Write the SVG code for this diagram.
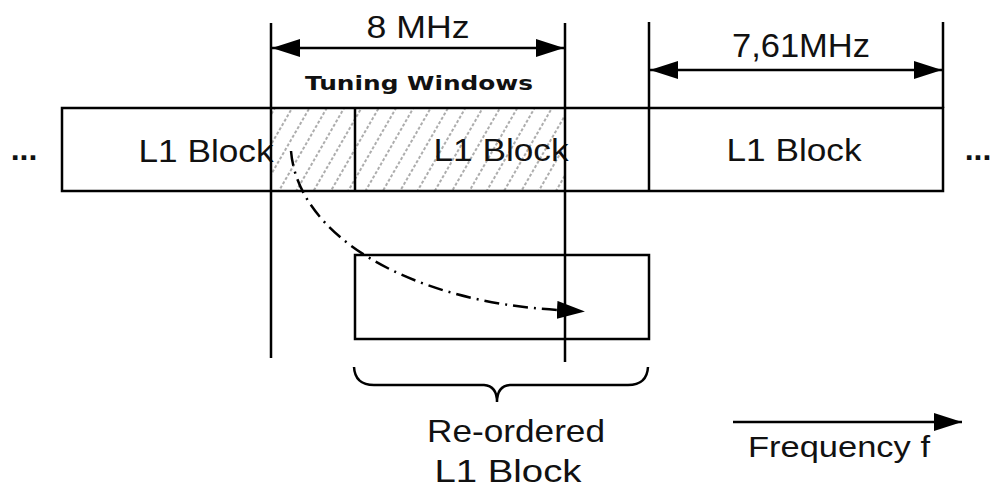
<svg xmlns="http://www.w3.org/2000/svg" width="991" height="488" viewBox="0 0 991 488">
<style>
.ln{stroke:#000;stroke-width:2.5;fill:none}
.box{stroke:#000;stroke-width:2.5;fill:none}
.t{font-family:"Liberation Sans",Arial,sans-serif;fill:#111;text-anchor:middle}
.tb{font-family:"DejaVu Sans",Verdana,sans-serif;font-weight:bold;fill:#111;text-anchor:middle}
</style>
<defs>
<marker id="ah" viewBox="0 0 28 18" refX="28" refY="9" markerWidth="28" markerHeight="18" markerUnits="userSpaceOnUse" orient="auto-start-reverse">
<path d="M0,0 L28,9 L0,18 Z" fill="#000"/>
</marker>
<marker id="ah2" viewBox="0 0 28 18" refX="2" refY="9" markerWidth="28" markerHeight="18" markerUnits="userSpaceOnUse" orient="auto">
<path d="M0,0 L28,9 L0,18 Z" fill="#000"/>
</marker>
<pattern id="hatch" width="15" height="15" patternUnits="userSpaceOnUse" patternTransform="rotate(30)">
<line x1="7" y1="0" x2="7" y2="15" stroke="#8a8a8a" stroke-width="1.4" stroke-dasharray="3 2"/>
</pattern>
</defs>
<rect width="991" height="488" fill="#fff"/>

<g id="hatched-window">
<rect x="271" y="108" width="294" height="83" fill="url(#hatch)"/>
</g>

<g id="l1-block-row">
<rect class="box" x="62" y="108" width="881" height="83"/>
<line class="ln" x1="355" y1="108" x2="355" y2="191"/>
<line class="ln" x1="649" y1="108" x2="649" y2="191"/>
<text class="t" x="206" y="162" font-size="32" textLength="135" lengthAdjust="spacingAndGlyphs">L1 Block</text>
<text class="t" x="501" y="161" font-size="32" textLength="135" lengthAdjust="spacingAndGlyphs">L1 Block</text>
<text class="t" x="794" y="161" font-size="32" textLength="135" lengthAdjust="spacingAndGlyphs">L1 Block</text>
</g>

<g id="ellipsis-left"><text class="t" x="24" y="160" font-size="32" font-weight="bold">...</text></g>
<g id="ellipsis-right"><text class="t" x="978" y="160" font-size="32" font-weight="bold">...</text></g>

<g id="reordered-block">
<rect class="box" x="355" y="255" width="294" height="84"/>
</g>

<g id="tuning-window-label">
<text class="t" x="418" y="38" font-size="32" textLength="103" lengthAdjust="spacingAndGlyphs">8 MHz</text>
<text class="tb" x="419" y="90" font-size="20" textLength="228" lengthAdjust="spacingAndGlyphs">Tuning Windows</text>
</g>

<g id="bandwidth-label">
<text class="t" x="801" y="57" font-size="34" textLength="138" lengthAdjust="spacingAndGlyphs">7,61MHz</text>
</g>

<g id="brace">
<path class="ln" d="M354 367 Q355 385 374 385 L484 385 Q497 386 497 402 Q497 386 510 385 L628 385 Q647 385 648 367"/>
<text class="t" x="516" y="442" font-size="32" textLength="178" lengthAdjust="spacingAndGlyphs">Re-ordered</text>
<text class="t" x="508" y="482" font-size="31" textLength="147" lengthAdjust="spacingAndGlyphs">L1 Block</text>
</g>

<g id="frequency-axis">
<text class="t" x="839" y="457" font-size="30" textLength="182" lengthAdjust="spacingAndGlyphs">Frequency f</text>
</g>

<g id="connectors">
<line class="ln" x1="271" y1="23" x2="271" y2="358"/>
<line class="ln" x1="565" y1="23" x2="565" y2="362"/>
<line class="ln" x1="649" y1="22" x2="649" y2="108"/>
<line class="ln" x1="943" y1="22" x2="943" y2="108"/>
<line class="ln" x1="272" y1="48" x2="564" y2="48" marker-start="url(#ah)" marker-end="url(#ah)"/>
<line class="ln" x1="650" y1="70" x2="942" y2="70" marker-start="url(#ah)" marker-end="url(#ah)"/>
<path class="ln" d="M291 151 C298 236 410 302 559 310" stroke-dasharray="15 6 2 6" marker-end="url(#ah2)"/>
<line class="ln" x1="733" y1="422" x2="962" y2="422" marker-end="url(#ah)"/>
</g>
</svg>
